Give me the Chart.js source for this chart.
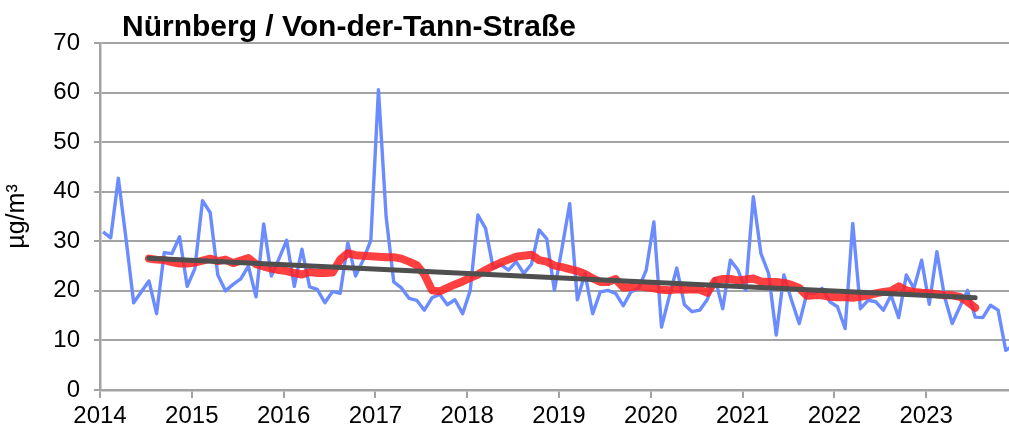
<!DOCTYPE html>
<html><head><meta charset="utf-8">
<script src="https://cdn.jsdelivr.net/npm/chart.js@4.4.1/dist/chart.umd.min.js"></script>
<style>html,body{margin:0;padding:0;background:#fff;overflow:hidden;}</style>
</head><body>
<canvas id="c" width="1009" height="436"></canvas>
<script>
const chartTitle = 'Nürnberg / Von-der-Tann-Straße';
const yAxisTitle = 'µg/m³';
const startYear = 2014;
const yearTicks = [2014, 2015, 2016, 2017, 2018, 2019, 2020, 2021, 2022, 2023];
const yTicks = [0, 10, 20, 30, 40, 50, 60, 70];

// Monatsmittelwerte Jan 2014 – Dez 2023
const monthlyMeans = [
  31.9, 30.7, 42.7, 30.5, 17.6, 19.8, 22.0, 15.4, 27.7, 27.5, 30.9, 20.9,
  24.5, 38.2, 35.8, 23.2, 20.0, 21.3, 22.4, 25.0, 18.8, 33.5, 23.0, 26.5,
  30.2, 20.9, 28.4, 20.8, 20.3, 17.6, 19.9, 19.5, 29.7, 23.0, 26.2, 30.2,
  60.6, 35.0, 21.8, 20.6, 18.5, 18.1, 16.1, 18.6, 19.3, 17.2, 18.2, 15.4,
  20.1, 35.3, 32.6, 24.6, 25.3, 24.2, 25.9, 23.5, 25.4, 32.3, 30.5, 20.1,
  28.7, 37.6, 18.2, 23.5, 15.4, 19.8, 20.1, 19.5, 17.0, 19.8, 20.5, 24.2,
  33.9, 12.7, 18.8, 24.6, 17.2, 15.8, 16.1, 18.3, 22.5, 16.4, 26.2, 24.2,
  20.1, 39.0, 27.5, 23.5, 11.1, 23.2, 18.1, 13.4, 19.5, 19.5, 20.5, 17.8,
  16.8, 12.4, 33.6, 16.4, 18.1, 17.8, 16.1, 19.1, 14.6, 23.2, 20.5, 26.2,
  17.3, 27.9, 18.8, 13.4, 16.8, 20.1, 14.7, 14.6, 17.1, 16.1, 8.0, 9.0
];

// gleitender 12-Monats-Mittelwert, ab Jul 2014
const movingAvgStart = 6;
const movingAvg = [
  26.5, 26.3, 26.2, 25.8, 25.5, 25.5,
  25.7, 26.1, 26.5, 26.0, 26.3, 25.6, 26.1, 26.6, 25.4, 24.9, 24.5, 24.2,
  24.0, 23.6, 23.3, 23.8, 23.6, 23.6, 23.7, 26.3, 27.6, 27.2, 27.1, 27.0,
  26.9, 26.8, 26.8, 26.5, 25.9, 25.2, 23.3, 20.1, 19.9, 20.6, 21.3, 21.9,
  22.6, 23.3, 24.2, 25.0, 25.7, 26.3, 26.9, 27.1, 27.3, 26.2, 25.9, 25.1,
  24.8, 24.4, 24.0, 23.4, 22.5, 21.8, 21.8, 22.4, 20.7, 20.8, 20.9, 20.7,
  20.5, 20.2, 20.1, 20.3, 20.2, 20.3, 20.2, 19.6, 22.0, 22.4, 22.4, 22.1,
  22.3, 22.5, 21.9, 21.8, 21.8, 21.6, 21.2, 20.6, 19.0, 19.1, 19.1, 18.8,
  18.7, 18.7, 18.6, 18.8, 19.1, 19.5, 19.8, 20.0, 20.9, 20.1, 19.8, 19.6,
  19.5, 19.3, 19.1, 19.1, 18.8, 17.8, 16.6
];

// linearer Trend
const trendMonths = [6, 114];
const trendValues = [26.6, 18.6];

const monthX = i => startYear + (i + 0.4) / 12;

const blueData = monthlyMeans.map((v, i) => ({x: monthX(i), y: v}));
const redData = movingAvg.map((v, i) => ({x: monthX(i + movingAvgStart), y: v}));
const trendData = trendValues.map((v, i) => ({x: monthX(trendMonths[i]), y: v}));

const AREA_LEFT = 100, AREA_TOP = 43, AREA_BOTTOM = 390, W = 1009, H = 436;
const PX_PER_YEAR = 91.8;
const xMax = startYear + (W - AREA_LEFT) / PX_PER_YEAR;

const FONT = '"Liberation Sans", Arial, sans-serif';
const gridGray = '#a3a3a3';

const titlePlugin = {
  id: 'customTitle',
  afterDraw(chart) {
    const ctx = chart.ctx;
    ctx.save();
    ctx.font = 'bold 30px ' + FONT;
    ctx.fillStyle = '#000';
    ctx.textBaseline = 'alphabetic';
    ctx.textAlign = 'left';
    ctx.fillText(chartTitle, 122, 36);
    ctx.restore();
  }
};

new Chart(document.getElementById('c'), {
  type: 'line',
  data: {
    datasets: [
      {label: 'Trend', data: trendData, borderColor: '#4f4f4f', borderWidth: 5, pointRadius: 0, tension: 0, borderCapStyle: 'round'},
      {label: 'gleitender Jahresmittelwert', data: redData, borderColor: 'rgba(255,30,30,0.85)', borderWidth: 8, pointRadius: 0, tension: 0, borderCapStyle: 'round', borderJoinStyle: 'round'},
      {label: 'Monatsmittelwert', data: blueData, borderColor: '#6b8cff', borderWidth: 3.4, pointRadius: 0, tension: 0, borderJoinStyle: 'round'}
    ]
  },
  options: {
    responsive: false,
    animation: false,
    devicePixelRatio: 1,
    layout: {padding: {top: AREA_TOP, left: 0, right: 0, bottom: 0}},
    plugins: {legend: {display: false}, tooltip: {enabled: false}, title: {display: false}},
    scales: {
      x: {
        type: 'linear',
        min: startYear,
        max: xMax,
        afterBuildTicks(scale) { scale.ticks = yearTicks.map(v => ({value: v})); },
        afterFit(scale) { scale.height = H - AREA_BOTTOM; },
        ticks: {
          callback: v => String(v),
          color: '#000',
          font: {family: FONT, size: 24},
          padding: 4,
          maxRotation: 0,
          autoSkip: false
        },
        grid: {drawOnChartArea: false, drawTicks: true, tickLength: 8, color: gridGray, lineWidth: 2},
        border: {display: true, color: gridGray, width: 2.5}
      },
      y: {
        min: 0,
        max: 70,
        afterBuildTicks(scale) { scale.ticks = yTicks.map(v => ({value: v})); },
        afterFit(scale) { scale.width = AREA_LEFT; },
        ticks: {
          color: '#000',
          font: {family: FONT, size: 24},
          padding: 14
        },
        grid: {color: gridGray, lineWidth: 2, tickLength: 6, drawTicks: true},
        border: {display: true, color: gridGray, width: 2.5},
        title: {display: true, text: yAxisTitle, color: '#000', font: {family: FONT, size: 25}, padding: {top: 2, bottom: 0}}
      }
    }
  },
  plugins: [titlePlugin]
});
</script>
</body></html>
